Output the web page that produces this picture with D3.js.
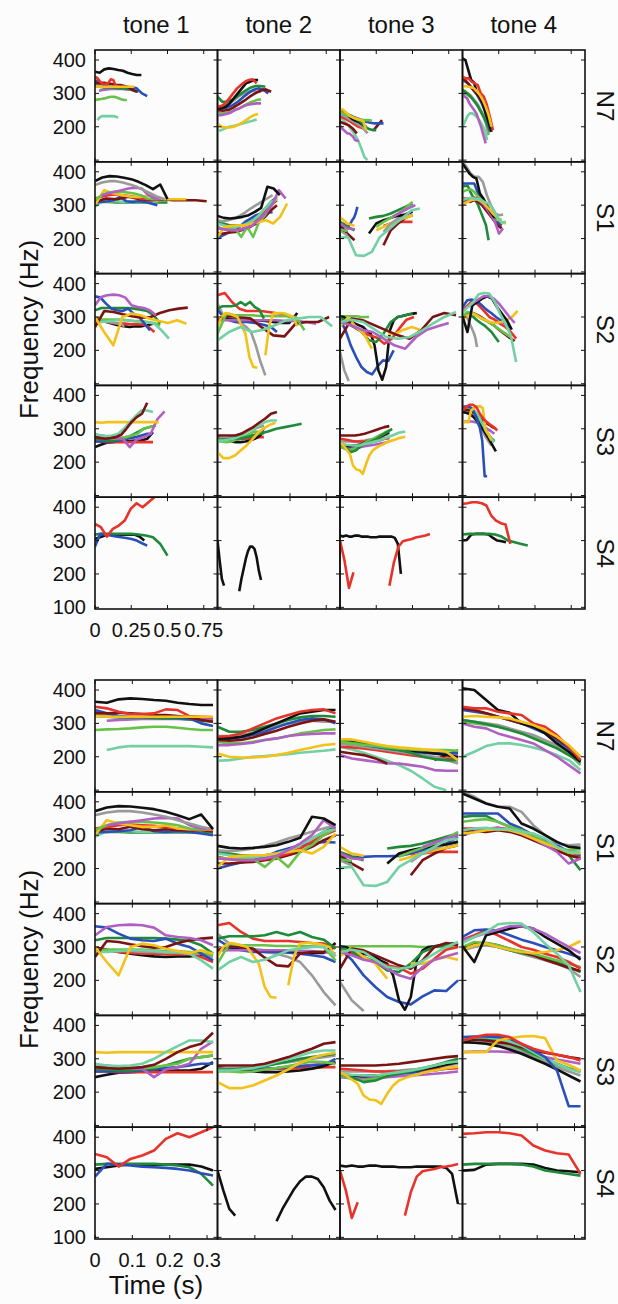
<!DOCTYPE html>
<html>
<head>
<meta charset="utf-8">
<script src="https://cdn.jsdelivr.net/npm/d3@7/dist/d3.min.js"></script>
<style>
  body { margin: 0; background: #fcfcfc; }
  text { font-family: "Liberation Sans", Arial, Helvetica, sans-serif; fill: #111; }
</style>
</head>
<body>
<svg id="chart"></svg>
<script>
// ---- data ----
const tones = ["tone 1", "tone 2", "tone 3", "tone 4"];
const talkers = ["N7", "S1", "S2", "S3", "S4"];
const yTicks = [100, 200, 300, 400];
const xTicksTop = [0, 0.25, 0.5, 0.75];
const xTicksBottom = [0, 0.1, 0.2, 0.3];
// bottom panel: every contour is stretched to the same normalised length (s)
const normSpan = 0.316;

// each contour: speaker, real duration (s), F0 samples at evenly spaced normalised times (null = unvoiced)
const N7_tone1 = [
  { spk: "mint", dur: 0.16, f: [null, 220, 228, 232, 232, 232, 232, 232, 232, 230, 228] },
  { spk: "lime", dur: 0.22, f: [280, 282, 283, 285, 288, 290, 290, 287, 283, 280, 280] },
  { spk: "purple", dur: 0.27, f: [null, 308, 310, 312, 313, 313, 313, 313, 312, 312, 312] },
  { spk: "green", dur: 0.3, f: [322, 320, 318, 318, 318, 316, 315, 315, 312, 308, 305] },
  { spk: "blue", dur: 0.36, f: [340, 330, 322, 320, 320, 320, 320, 318, 315, 300, 292] },
  { spk: "maroon", dur: 0.29, f: [330, 330, 332, 330, 328, 325, 325, 322, 318, 310, 305] },
  { spk: "red", dur: 0.18, f: [350, 345, 335, 328, 328, 330, 342, 340, 322, 320, 318] },
  { spk: "yellow", dur: 0.27, f: [322, 320, 320, 320, 320, 320, 320, 320, 320, 320, 320] },
  { spk: "black", dur: 0.32, f: [365, 362, 372, 375, 373, 370, 368, 362, 358, 355, 355] }
];
const N7_tone2 = [
  { spk: "mint", dur: 0.27, f: [188, 190, 195, 200, 202, 205, 208, 212, 215, 218, 222] },
  { spk: "yellow", dur: 0.28, f: [210, 200, 198, 198, 200, 205, 212, 220, 228, 235, 238] },
  { spk: "lime", dur: 0.3, f: [245, 240, 240, 245, 250, 255, 262, 270, 275, 280, 282] },
  { spk: "purple", dur: 0.3, f: [235, 235, 238, 242, 250, 255, 262, 266, 268, 270, 270] },
  { spk: "grey", dur: 0.3, f: [262, 262, 265, 272, 282, 292, 300, 305, 308, 305, 305] },
  { spk: "blue", dur: 0.35, f: [255, 255, 258, 265, 275, 288, 300, 310, 315, 312, 300] },
  { spk: "maroon", dur: 0.37, f: [250, 248, 250, 258, 268, 278, 290, 300, 308, 312, 305] },
  { spk: "green", dur: 0.33, f: [290, 275, 275, 280, 290, 300, 310, 318, 322, 322, 320] },
  { spk: "black", dur: 0.28, f: [255, 255, 260, 270, 285, 300, 315, 330, 335, 340, 340] },
  { spk: "red", dur: 0.27, f: [260, 262, 270, 285, 300, 315, 325, 335, 340, 342, 330] }
];
const N7_tone3 = [
  { spk: "mint", dur: 0.21, f: [230, 222, 212, 200, 188, 175, 158, 135, 110, 100, null] },
  { spk: "purple", dur: 0.13, f: [205, 195, 190, 185, 180, 180, 175, 170, 160, 158, 158] },
  { spk: "maroon", dur: 0.29, f: [215, 210, 205, 195, 180, null, null, null, 190, 205, 220] },
  { spk: "red", dur: 0.18, f: [230, 228, 225, 220, 215, 210, 205, 200, 198, 195, 195] },
  { spk: "grey", dur: 0.19, f: [238, 235, 230, 225, 220, 215, 210, 205, 200, 190, 180] },
  { spk: "blue", dur: 0.3, f: [248, 242, 236, 230, 225, 220, 215, 212, 210, 210, 210] },
  { spk: "black", dur: 0.18, f: [248, 245, 240, 235, 228, 222, 218, 215, 210, 205, 200] },
  { spk: "green", dur: 0.25, f: [245, 242, 238, 232, 225, 220, 212, 200, 193, 190, 190] },
  { spk: "lime", dur: 0.22, f: [245, 240, 235, 232, 228, 225, 222, 220, 220, 220, 218] },
  { spk: "yellow", dur: 0.18, f: [252, 252, 245, 238, 232, 228, 225, 222, 220, 215, 190] }
];
const N7_tone4 = [
  { spk: "mint", dur: 0.17, f: [200, 215, 232, 240, 240, 235, 228, 218, 205, 190, 160] },
  { spk: "purple", dur: 0.16, f: [300, 290, 285, 270, 260, 250, 240, 220, 200, 175, 150] },
  { spk: "lime", dur: 0.18, f: [305, 300, 295, 290, 282, 270, 260, 245, 230, 210, 175] },
  { spk: "grey", dur: 0.18, f: [310, 305, 300, 295, 285, 275, 265, 250, 235, 215, 180] },
  { spk: "green", dur: 0.19, f: [310, 305, 298, 290, 280, 270, 255, 240, 225, 205, 185] },
  { spk: "blue", dur: 0.19, f: [340, 335, 330, 320, 310, 300, 285, 270, 250, 225, 190] },
  { spk: "maroon", dur: 0.19, f: [345, 340, 330, 320, 310, 300, 290, 275, 255, 230, 200] },
  { spk: "black", dur: 0.2, f: [405, 400, 370, 340, 332, 300, 290, 270, 240, 215, 185] },
  { spk: "red", dur: 0.21, f: [350, 345, 345, 335, 330, 325, 300, 290, 265, 230, 190] },
  { spk: "yellow", dur: 0.2, f: [320, 322, 320, 318, 315, 305, 295, 280, 260, 235, 200] }
];

const S1_tone1 = [
  { spk: "green", dur: 0.5, f: [310, 310, 310, 308, 308, 308, 308, 308, 308, 308, 308] },
  { spk: "mint", dur: 0.48, f: [295, 312, 312, 312, 310, 310, 310, 310, 310, 312, 318] },
  { spk: "blue", dur: 0.43, f: [308, 310, 312, 315, 325, 312, 310, 312, 310, 305, 300] },
  { spk: "maroon", dur: 0.77, f: [310, 320, 318, 325, 318, 315, 318, 315, 315, 315, 312] },
  { spk: "red", dur: 0.45, f: [320, 325, 330, 332, 330, 328, 325, 320, 318, 318, 315] },
  { spk: "yellow", dur: 0.63, f: [300, 345, 335, 330, 325, 325, 330, 320, 318, 318, 318] },
  { spk: "lime", dur: 0.45, f: [315, 330, 338, 340, 340, 338, 335, 330, 320, 318, 320] },
  { spk: "purple", dur: 0.46, f: [null, 330, 335, 340, 345, 350, 352, 350, 330, 320, 320] },
  { spk: "grey", dur: 0.48, f: [360, 368, 372, 372, 368, 362, 355, 345, 335, 325, 318] },
  { spk: "black", dur: 0.5, f: [372, 383, 387, 386, 382, 378, 370, 360, 348, 362, 318] }
];
const S1_tone2 = [
  { spk: "blue", dur: 0.38, f: [200, 210, 218, 225, 235, 250, 260, 270, 275, 280, 278] },
  { spk: "maroon", dur: 0.41, f: [215, 215, 218, 220, 225, 230, 240, 250, 265, 285, 300] },
  { spk: "red", dur: 0.41, f: [235, 228, 225, 225, 228, 235, 245, 260, 280, 300, 315] },
  { spk: "lime", dur: 0.41, f: [232, 230, 228, 230, 205, 235, 205, 250, 270, 300, 320] },
  { spk: "green", dur: 0.41, f: [250, 245, 240, 240, 240, 245, 255, 270, 290, 310, 325] },
  { spk: "mint", dur: 0.41, f: [245, 240, 235, 235, 238, 245, 255, 270, 290, 310, 318] },
  { spk: "yellow", dur: 0.48, f: [205, 235, 238, 240, 240, 245, 250, 255, 245, 265, 305] },
  { spk: "grey", dur: 0.38, f: [255, 252, 255, 260, 268, 278, 290, 300, 310, 320, 330] },
  { spk: "purple", dur: 0.47, f: [230, 228, 225, 225, 230, 238, 255, 275, 300, 345, 320] },
  { spk: "black", dur: 0.43, f: [268, 262, 260, 262, 265, 270, 280, 292, 355, 350, 330] }
];
const S1_tone3 = [
  { spk: "blue", dur: 0.12, f: [240, 235, 235, 237, 237, 238, 245, 255, 262, 275, 295] },
  { spk: "red", dur: 0.5, f: [248, 238, null, null, null, null, 238, 245, 250, 250, 250] },
  { spk: "maroon", dur: 0.5, f: [240, 215, 195, null, null, null, 180, 225, 245, 262, 270] },
  { spk: "yellow", dur: 0.5, f: [265, 245, 238, null, null, 225, 235, 245, 255, 262, 270] },
  { spk: "grey", dur: 0.5, f: [225, 210, null, null, null, null, 220, 245, 260, 272, 282] },
  { spk: "black", dur: 0.5, f: [230, 220, null, null, 215, 245, 255, 262, 268, 272, 280] },
  { spk: "green", dur: 0.5, f: [250, 235, 225, null, 260, 265, 268, 275, 285, 295, 305] },
  { spk: "lime", dur: 0.5, f: [228, 222, null, null, null, 235, 250, 262, 275, 290, 310] },
  { spk: "purple", dur: 0.52, f: [245, 230, 228, null, null, null, null, 265, 278, 290, 300] },
  { spk: "mint", dur: 0.55, f: [202, 205, 150, 148, 160, 205, 225, 246, 265, 285, 290] }
];
const S1_tone4 = [
  { spk: "green", dur: 0.18, f: [355, 358, 358, 340, 325, 315, 300, 280, 260, 240, 195] },
  { spk: "red", dur: 0.27, f: [320, 320, 318, 322, 318, 305, 290, 275, 255, 240, 235] },
  { spk: "maroon", dur: 0.27, f: [315, 312, 310, 315, 310, 300, 285, 270, 255, 240, 230] },
  { spk: "blue", dur: 0.27, f: [365, 365, 365, 365, 335, 320, 300, 285, 270, 250, 240] },
  { spk: "lime", dur: 0.27, f: [340, 345, 348, 340, 325, 315, 300, 280, 262, 255, 258] },
  { spk: "purple", dur: 0.28, f: [300, 310, 320, 322, 315, 305, 290, 270, 250, 215, 230] },
  { spk: "grey", dur: 0.28, f: [430, 415, 395, 385, 385, 370, 330, 300, 275, 270, 272] },
  { spk: "black", dur: 0.24, f: [425, 410, 395, 385, 380, 335, 320, 300, 280, 265, 262] },
  { spk: "yellow", dur: 0.3, f: [305, 308, 315, 318, 315, 305, 290, 275, 262, 248, 245] },
  { spk: "mint", dur: 0.3, f: [315, 320, 322, 318, 318, 310, 305, 290, 265, 248, 250] }
];

const S2_tone1 = [
  { spk: "black", dur: 0.4, f: [298, 292, 285, 280, 275, 272, 270, 272, 272, 275, 280] },
  { spk: "red", dur: 0.41, f: [295, 290, 285, 282, 280, 280, 278, 278, 278, 270, 255] },
  { spk: "grey", dur: 0.2, f: [290, 290, 288, 288, 285, 285, 283, 282, 280, 280, 270] },
  { spk: "lime", dur: 0.45, f: [290, 292, 292, 292, 292, 290, 288, 288, 285, 282, 275] },
  { spk: "mint", dur: 0.51, f: [285, 285, 288, 290, 290, 288, 285, 285, 280, 260, 235] },
  { spk: "green", dur: 0.45, f: [320, 327, 327, 327, 327, 327, 325, 322, 318, 305, 280] },
  { spk: "blue", dur: 0.38, f: [362, 358, 340, 325, 320, 318, 325, 310, 300, 280, 260] },
  { spk: "maroon", dur: 0.64, f: [270, 318, 315, 308, 302, 298, 300, 312, 320, 325, 328] },
  { spk: "yellow", dur: 0.63, f: [300, 255, 215, 300, 310, 305, 295, 288, 282, 290, 280] },
  { spk: "purple", dur: 0.42, f: [335, 360, 365, 367, 365, 358, 335, 330, 327, 320, 305] }
];
const S2_tone2 = [
  { spk: "grey", dur: 0.33, f: [340, 310, 300, 292, 285, 280, 270, 255, 215, 165, 125] },
  { spk: "blue", dur: 0.41, f: [322, 300, 290, 285, 285, 285, 283, 280, 275, 270, 255] },
  { spk: "black", dur: 0.55, f: [290, 292, 292, 292, 290, 290, 288, 285, 282, 282, 312] },
  { spk: "purple", dur: 0.68, f: [290, 290, 290, 290, 290, 290, 290, 288, 288, 285, 280] },
  { spk: "maroon", dur: 0.77, f: [290, 302, 300, 295, 268, 245, 242, 280, 285, 285, 300] },
  { spk: "red", dur: 0.5, f: [365, 372, 345, 325, 318, 318, 318, 315, 312, 310, 300] },
  { spk: "lime", dur: 0.6, f: [250, 310, 305, 305, 305, 303, 303, 302, 302, 300, 260] },
  { spk: "green", dur: 0.32, f: [325, 332, 332, 332, 335, 345, 335, 345, 330, 322, 295] },
  { spk: "yellow", dur: 0.55, f: [272, 300, 312, 310, 305, 300, 275, 250, 180, 150, 148, null, 185, 275, 310, 312, 312, 310, 305, 300, 272] },
  { spk: "mint", dur: 0.79, f: [230, 255, 270, 255, 262, 275, 290, 295, 300, 300, 272] }
];
const S2_tone3 = [
  { spk: "grey", dur: 0.3, f: [195, 140, 108, null, null, null, null, null, null, null, null] },
  { spk: "lime", dur: 0.2, f: [300, 302, 302, 302, 302, 302, 302, 300, 300, 300, 300] },
  { spk: "blue", dur: 0.37, f: [292, 262, 215, 180, 150, 135, 128, 152, 170, 168, 200] },
  { spk: "black", dur: 0.53, f: [302, 300, 290, 285, 280, 275, 270, 258, 250, 215, 140, 112, 150, 260, 290, 300, 302, 305, 308, 310, 312] },
  { spk: "red", dur: 0.51, f: [290, 280, 268, 255, 245, 238, 220, 235, 265, 292, 300] },
  { spk: "green", dur: 0.5, f: [300, 285, 270, 255, 230, 225, 250, 285, 300, 305, 310] },
  { spk: "yellow", dur: 0.55, f: [272, 298, 270, 250, 205, null, 250, 250, 262, 270, 262] },
  { spk: "maroon", dur: 0.8, f: [235, 295, 290, 275, 260, 245, 235, 260, 300, 312, 305] },
  { spk: "purple", dur: 0.75, f: [285, 275, 262, 255, 235, 215, 205, 240, 262, 272, 282] },
  { spk: "mint", dur: 0.8, f: [285, 292, 285, 262, 240, 235, 240, 258, 280, 300, 315] }
];
const S2_tone4 = [
  { spk: "grey", dur: 0.1, f: [290, 300, 305, 300, 290, 280, 270, 260, 250, 235, 210] },
  { spk: "green", dur: 0.25, f: [295, 310, 308, 300, 290, 282, 275, 265, 255, 240, 225] },
  { spk: "maroon", dur: 0.36, f: [300, 310, 312, 305, 295, 285, 275, 262, 250, 238, 228] },
  { spk: "lime", dur: 0.33, f: [300, 315, 312, 305, 295, 288, 280, 270, 260, 250, 240] },
  { spk: "red", dur: 0.37, f: [322, 335, 350, 335, 318, 300, 292, 280, 270, 255, 235] },
  { spk: "blue", dur: 0.33, f: [330, 350, 352, 348, 335, 322, 312, 300, 290, 280, 268] },
  { spk: "yellow", dur: 0.38, f: [292, 305, 310, 300, 292, 285, 282, 285, 290, 300, 318] },
  { spk: "black", dur: 0.34, f: [302, 255, 335, 345, 355, 362, 355, 330, 310, 290, 262] },
  { spk: "purple", dur: 0.36, f: [320, 330, 342, 352, 362, 362, 355, 340, 320, 300, 282] },
  { spk: "mint", dur: 0.37, f: [312, 330, 345, 368, 372, 370, 345, 310, 280, 245, 165] }
];

const S3_tone1 = [
  { spk: "black", dur: 0.4, f: [245, 252, 258, 260, 262, 262, 263, 265, 265, 270, 290] },
  { spk: "red", dur: 0.4, f: [262, 262, 260, 260, 260, 260, 260, 260, 260, 260, 260] },
  { spk: "blue", dur: 0.4, f: [262, 262, 262, 262, 265, 268, 272, 275, 280, 285, 285] },
  { spk: "green", dur: 0.42, f: [270, 268, 265, 265, 268, 272, 280, 290, 300, 305, 310] },
  { spk: "lime", dur: 0.42, f: [275, 272, 270, 270, 272, 275, 280, 285, 300, 305, 310] },
  { spk: "purple", dur: 0.48, f: [275, 280, 275, 272, 270, 245, 268, 275, 285, 330, 352] },
  { spk: "yellow", dur: 0.44, f: [320, 318, 320, 320, 320, 320, 320, 320, 320, 320, 320] },
  { spk: "mint", dur: 0.4, f: [285, 280, 278, 280, 285, 300, 320, 338, 355, 355, 350] },
  { spk: "maroon", dur: 0.36, f: [275, 272, 270, 272, 275, 282, 300, 320, 335, 345, 378] }
];
const S3_tone2 = [
  { spk: "purple", dur: 0.32, f: [272, 270, 268, 268, 270, 272, 275, 278, 282, 285, 288] },
  { spk: "red", dur: 0.32, f: [270, 268, 268, 268, 268, 270, 270, 272, 272, 275, 275] },
  { spk: "blue", dur: 0.32, f: [265, 265, 265, 268, 270, 272, 275, 278, 280, 282, 300] },
  { spk: "black", dur: 0.32, f: [275, 270, 265, 262, 260, 260, 262, 265, 270, 278, 290] },
  { spk: "lime", dur: 0.32, f: [262, 262, 260, 262, 268, 272, 278, 285, 292, 290, 285] },
  { spk: "grey", dur: 0.32, f: [270, 272, 272, 275, 280, 285, 290, 295, 300, 305, 310] },
  { spk: "green", dur: 0.58, f: [268, 268, 270, 272, 278, 285, 292, 300, 305, 310, 315] },
  { spk: "mint", dur: 0.41, f: [265, 265, 268, 272, 280, 290, 300, 310, 320, 325, 325] },
  { spk: "yellow", dur: 0.4, f: [230, 212, 212, 220, 235, 250, 268, 288, 302, 312, 318] },
  { spk: "maroon", dur: 0.41, f: [280, 280, 280, 280, 285, 295, 305, 318, 330, 345, 350] }
];
const S3_tone3 = [
  { spk: "purple", dur: 0.34, f: [245, 242, 242, 242, 245, 248, 250, 252, 255, 258, 262] },
  { spk: "blue", dur: 0.34, f: [250, 250, 248, 250, 252, 255, 258, 262, 265, 270, 275] },
  { spk: "grey", dur: 0.34, f: [262, 262, 262, 262, 263, 265, 268, 270, 275, 280, 285] },
  { spk: "red", dur: 0.34, f: [270, 268, 265, 262, 262, 262, 265, 268, 270, 270, 272] },
  { spk: "black", dur: 0.34, f: [255, 250, 248, 250, 252, 258, 262, 268, 275, 282, 290] },
  { spk: "lime", dur: 0.34, f: [250, 240, 235, 240, 250, 258, 265, 272, 280, 288, 295] },
  { spk: "green", dur: 0.36, f: [255, 245, 230, 235, 248, 255, 262, 270, 280, 290, 300] },
  { spk: "mint", dur: 0.45, f: [255, 252, 250, 250, 255, 260, 265, 272, 280, 288, 292] },
  { spk: "maroon", dur: 0.34, f: [280, 280, 280, 280, 282, 285, 290, 295, 300, 305, 308] },
  { spk: "yellow", dur: 0.45, f: [260, 250, 238, 225, 190, 178, 176, 165, 195, 220, 235, 242, 248, 252, 258, 262, 265, 268, 272, 274, 276] }
];
const S3_tone4 = [
  { spk: "grey", dur: 0.2, f: [348, 352, 350, 345, 335, 320, 305, 290, 275, 262, 250] },
  { spk: "purple", dur: 0.22, f: [320, 322, 322, 322, 320, 318, 312, 305, 298, 292, 285] },
  { spk: "lime", dur: 0.22, f: [355, 360, 358, 352, 342, 328, 312, 298, 282, 270, 265] },
  { spk: "green", dur: 0.22, f: [350, 360, 360, 355, 345, 330, 315, 300, 285, 272, 262] },
  { spk: "maroon", dur: 0.23, f: [355, 358, 355, 350, 345, 335, 325, 318, 312, 305, 300] },
  { spk: "black", dur: 0.23, f: [350, 348, 345, 338, 328, 315, 300, 285, 268, 250, 232] },
  { spk: "mint", dur: 0.22, f: [355, 365, 365, 360, 352, 340, 320, 300, 285, 270, 260] },
  { spk: "blue", dur: 0.17, f: [365, 367, 367, 365, 360, 345, 325, 305, 265, 158, 158] },
  { spk: "yellow", dur: 0.2, f: [320, 320, 320, 355, 362, 367, 368, 362, 295, 282, 265] },
  { spk: "red", dur: 0.24, f: [355, 365, 372, 372, 365, 345, 330, 320, 312, 305, 295] }
];

const S4_tone1 = [
  { spk: "black", dur: 0.34, f: [305, 310, 315, 318, 318, 318, 318, 318, 318, 312, 300] },
  { spk: "green", dur: 0.5, f: [318, 320, 320, 320, 320, 320, 318, 315, 310, 290, 255] },
  { spk: "blue", dur: 0.36, f: [282, 320, 318, 315, 312, 310, 308, 305, 300, 292, 285] },
  { spk: "red", dur: 0.41, f: [350, 340, 312, 335, 345, 360, 395, 412, 400, 415, 430] }
];
const S4_tone2 = [
  { spk: "black", dur: 0.3, f: [300, 240, 185, 165, null, null, null, null, null, null, 148, 185, 215, 245, 268, 282, 282, 275, 250, 210, 182] }
];
const S4_tone3 = [
  { spk: "black", dur: 0.42, f: [315, 312, 315, 312, 312, 315, 315, 312, 312, 312, 310, 310, 310, 312, 312, 312, 312, 312, 308, 290, 200] },
  { spk: "red", dur: 0.62, f: [300, 240, 158, 205, null, null, null, null, null, null, null, 165, 235, 282, 298, 302, 305, 310, 312, 315, 320] }
];
const S4_tone4 = [
  { spk: "black", dur: 0.3, f: [300, 302, 318, 320, 320, 320, 318, 308, 300, 298, 295] },
  { spk: "green", dur: 0.45, f: [318, 320, 320, 320, 320, 318, 312, 300, 295, 290, 285] },
  { spk: "red", dur: 0.33, f: [410, 412, 415, 415, 412, 405, 375, 360, 352, 348, 290] }
];

const grid = [
  [N7_tone1, N7_tone2, N7_tone3, N7_tone4],
  [S1_tone1, S1_tone2, S1_tone3, S1_tone4],
  [S2_tone1, S2_tone2, S2_tone3, S2_tone4],
  [S3_tone1, S3_tone2, S3_tone3, S3_tone4],
  [S4_tone1, S4_tone2, S4_tone3, S4_tone4]
];

// ---- style / layout ----
const palette = {
  black: "#111111", red: "#e8332a", blue: "#2a4fb8", maroon: "#7a1414",
  yellow: "#f3c21a", purple: "#b060c2", green: "#1f8a3a", lime: "#68c24a",
  grey: "#9a9a9a", mint: "#72d0a2"
};

const width = 618, height = 1304;
const left = 95, cellW = 122.5, cellH = 111.8;

const svg = d3.select("#chart").attr("width", width).attr("height", height);

const y = d3.scaleLinear().domain([95, 430]).range([cellH, 0]);

const panels = [
  { top: 50, x: d3.scaleLinear().domain([0, 0.845]).range([0, cellW]), ticks: xTicksTop,
    time: (c, u) => u * c.dur, labelY: 637, title: null },
  { top: 680, x: d3.scaleLinear().domain([0, 0.328]).range([0, cellW]), ticks: xTicksBottom,
    time: (c, u) => u * normSpan, labelY: 1267, title: "Time (s)" }
];

svg.append("defs").append("clipPath").attr("id", "cellclip")
  .append("rect").attr("width", cellW).attr("height", cellH);

// column titles
svg.selectAll(".tone").data(tones).join("text")
  .attr("x", (d, i) => left + (i + 0.5) * cellW)
  .attr("y", 33)
  .attr("text-anchor", "middle")
  .style("font-size", "24px")
  .text(d => d);

panels.forEach(p => {
  const line = d3.line()
    .defined(d => d.f != null)
    .x(d => p.x(d.t))
    .y(d => y(d.f));

  grid.forEach((row, r) => {
    row.forEach((contours, c) => {
      const g = svg.append("g")
        .attr("transform", `translate(${left + c * cellW},${p.top + r * cellH})`);

      g.append("g").attr("clip-path", "url(#cellclip)")
        .selectAll("path").data(contours).join("path")
        .attr("d", d => line(d.f.map((v, i) => ({ t: p.time(d, i / (d.f.length - 1)), f: v }))))
        .attr("fill", "none")
        .attr("stroke", d => palette[d.spk])
        .attr("stroke-width", 2.6)
        .attr("stroke-linejoin", "round");

      // inward ticks
      p.ticks.forEach(t => {
        g.append("line").attr("x1", p.x(t)).attr("x2", p.x(t)).attr("y1", 0).attr("y2", 4)
          .attr("stroke", "#111").attr("stroke-width", 1);
        g.append("line").attr("x1", p.x(t)).attr("x2", p.x(t)).attr("y1", cellH).attr("y2", cellH - 4)
          .attr("stroke", "#111").attr("stroke-width", 1);
      });
      yTicks.forEach(v => {
        g.append("line").attr("x1", 0).attr("x2", 4).attr("y1", y(v)).attr("y2", y(v))
          .attr("stroke", "#111").attr("stroke-width", 1);
        g.append("line").attr("x1", cellW).attr("x2", cellW - 4).attr("y1", y(v)).attr("y2", y(v))
          .attr("stroke", "#111").attr("stroke-width", 1);
      });

      g.append("rect").attr("width", cellW).attr("height", cellH)
        .attr("fill", "none").attr("stroke", "#111").attr("stroke-width", 1.6);
    });

    // y tick labels
    svg.selectAll(null)
      .data(r === grid.length - 1 ? yTicks : yTicks.filter(v => v >= 200))
      .join("text")
      .attr("x", left - 9)
      .attr("y", v => p.top + r * cellH + y(v))
      .attr("dy", "0.35em")
      .attr("text-anchor", "end")
      .style("font-size", "20px")
      .text(v => v);

    // talker label
    const cy = p.top + (r + 0.5) * cellH;
    svg.append("text")
      .attr("transform", `translate(605,${cy}) rotate(90)`)
      .attr("text-anchor", "middle")
      .attr("dy", "0.35em")
      .style("font-size", "24px")
      .text(talkers[r]);
  });

  // x tick labels
  svg.selectAll(null).data(p.ticks).join("text")
    .attr("x", t => left + p.x(t))
    .attr("y", p.labelY)
    .attr("text-anchor", "middle")
    .style("font-size", "20px")
    .text(t => t === 0 ? "0" : String(t));

  svg.append("text")
    .attr("transform", `translate(38,${p.top + 2.5 * cellH}) rotate(-90)`)
    .attr("text-anchor", "middle")
    .style("font-size", "26px")
    .text("Frequency (Hz)");

  if (p.title) {
    svg.append("text")
      .attr("x", 156).attr("y", 1294)
      .attr("text-anchor", "middle")
      .style("font-size", "26px")
      .text(p.title);
  }
});
</script>
</body>
</html>
